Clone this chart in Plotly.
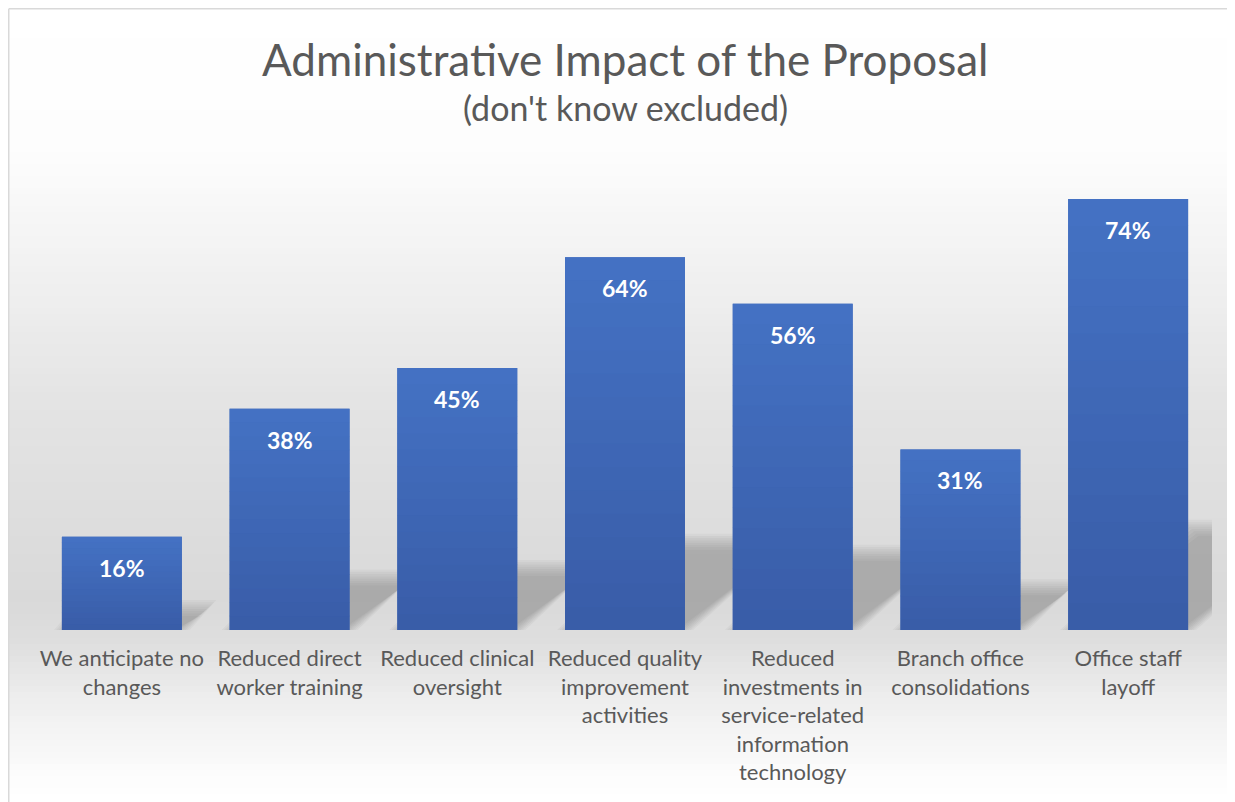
import plotly.graph_objects as go

categories = [
    "We anticipate no<br>changes",
    "Reduced direct<br>worker training",
    "Reduced clinical<br>oversight",
    "Reduced quality<br>improvement<br>activities",
    "Reduced<br>investments in<br>service-related<br>information<br>technology",
    "Branch office<br>consolidations",
    "Office staff<br>layoff",
]
values = [16, 38, 45, 64, 56, 31, 74]
value_labels = ["16%", "38%", "45%", "64%", "56%", "31%", "74%"]

# page has an 8px body margin, so the figure is drawn 8px in from the window corner
OFF = 8
W, H = 1235 - OFF, 802 - OFF
ML, MR, MT, MB = 38 - OFF, 23, 164 - OFF, 172
PW, PH = W - ML - MR, H - MT - MB
YMAX = 80
BARW = 0.715
PX_PER_CAT = PW / len(categories)
PX_PER_UNIT = PH / YMAX

def px_x(px):  # reference-window pixel -> paper
    return (px - OFF - ML) / PW

def px_y(py):
    return (H + OFF - MB - py) / PH

FONT = "Lato"
GREY = "#595959"
TOP_RGB = (68, 114, 196)
BOT_RGB = (57, 92, 167)

fig = go.Figure()
fig.add_trace(go.Bar(
    x=list(range(len(categories))), y=values,
    width=BARW,
    marker=dict(color="#3E68B7", line=dict(width=0)),
    hoverinfo="skip",
))

shapes = []
# background vertical gradient: white -> light grey -> white
def bg_color(py):
    stops = [(0, 255), (150, 253), (400, 228), (600, 217), (640, 222), (700, 238), (780, 253), (802, 255)]
    for (y0, c0), (y1, c1) in zip(stops[:-1], stops[1:]):
        if y0 <= py <= y1:
            t = (py - y0) / (y1 - y0)
            c = round(c0 + (c1 - c0) * t)
            return f"rgb({c},{c},{c})"
    return "rgb(255,255,255)"

step = 6
for py in range(8, 802, step):
    shapes.append(dict(
        type="rect", xref="paper", yref="paper", layer="below",
        x0=px_x(9), x1=px_x(1240), y0=px_y(py), y1=px_y(py + step + 1),
        fillcolor=bg_color(py + step / 2), line=dict(width=0),
    ))

# soft perspective shadows behind each bar (many translucent layers to mimic blur)
for i, v in enumerate(values):
    dy_units = 0.237 * v
    dx_cat = 1.2 * dy_units * PX_PER_UNIT / PX_PER_CAT
    for e in (-8, -5.7, -3.4, -1.1, 1.1, 3.4, 5.7, 8):
        ex = e / PX_PER_CAT
        ey = e / PX_PER_UNIT
        xl, xr = i - BARW / 2 - ex, i + BARW / 2 + ex
        top = dy_units + ey
        path = (f"M {xl},0 L {xr},0 L {xr + dx_cat},{top} "
                f"L {xl + dx_cat},{top} Z")
        shapes.append(dict(type="path", xref="x", yref="y", layer="below", path=path,
                           fillcolor="rgba(100,100,100,0.058)", line=dict(width=0)))

# vertical colour gradient on each bar
NSTRIP = 16
for i, v in enumerate(values):
    for k in range(NSTRIP):
        t = (k + 0.5) / NSTRIP  # 0 bottom -> 1 top
        r, g, b = (round(BOT_RGB[j] + (TOP_RGB[j] - BOT_RGB[j]) * t) for j in range(3))
        shapes.append(dict(type="rect", xref="x", yref="y", layer="above",
                           x0=i - BARW / 2, x1=i + BARW / 2,
                           y0=v * k / NSTRIP, y1=v * (k + 1) / NSTRIP + (0.05 if k < NSTRIP - 1 else 0),
                           fillcolor=f"rgb({r},{g},{b})", line=dict(width=0)))

# outer border
shapes.append(dict(type="line", xref="paper", yref="paper", x0=px_x(8.75), x1=px_x(1240),
                   y0=px_y(8.75), y1=px_y(8.75), line=dict(color="#d9d9d9", width=1.5)))
shapes.append(dict(type="line", xref="paper", yref="paper", x0=px_x(8.75), x1=px_x(8.75),
                   y0=px_y(8.75), y1=px_y(810), line=dict(color="#d9d9d9", width=1.5)))

annotations = []
for i, (v, lab) in enumerate(zip(values, value_labels)):
    annotations.append(dict(
        x=i, y=v, xref="x", yref="y", text=f"<b>{lab}</b>", showarrow=False,
        yanchor="top", yshift=-15, font=dict(family=FONT, size=23, color="white"),
    ))
annotations.append(dict(
    x=0.5, y=px_y(59), xref="paper", yref="paper", showarrow=False,
    text="Administrative Impact of the Proposal", yanchor="middle",
    font=dict(family=FONT, size=44, color=GREY),
))
annotations.append(dict(
    x=0.5, y=px_y(107), xref="paper", yref="paper", showarrow=False,
    text="(don't know excluded)", yanchor="middle",
    font=dict(family=FONT, size=34, color=GREY),
))

fig.update_layout(
    width=W, height=H,
    margin=dict(l=ML, r=MR, t=MT, b=MB),
    paper_bgcolor="white", plot_bgcolor="rgba(0,0,0,0)",
    showlegend=False,
    shapes=shapes, annotations=annotations,
    xaxis=dict(showgrid=False, showline=False, zeroline=False, ticks="",
               tickmode="array", tickvals=list(range(len(categories))), ticktext=categories,
               range=[-0.5, len(categories) - 0.5],
               ticklabelstandoff=13,
               tickfont=dict(family=FONT, size=22, color=GREY), tickangle=0, fixedrange=True),
    yaxis=dict(range=[0, YMAX], visible=False, fixedrange=True),
)

fig.write_html("out.html", config={"displayModeBar": False})
